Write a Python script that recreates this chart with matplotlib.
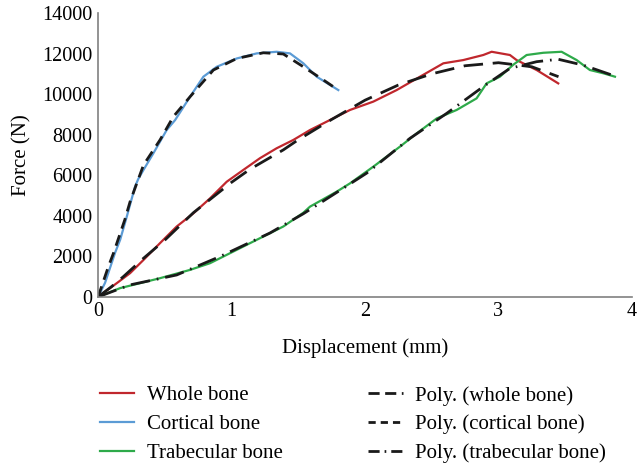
import numpy as np
import matplotlib
matplotlib.use("Agg")
import matplotlib.pyplot as plt
from matplotlib.lines import Line2D

plt.rcParams['font.family'] = ['Liberation Serif', 'DejaVu Serif']

# displacement (mm) / force (N)
whole_x = [0, 0.14, 0.24, 0.34, 0.464, 0.589, 0.714, 0.839, 0.964, 1.088, 1.213,
           1.338, 1.463, 1.588, 1.788, 1.888, 2.062, 2.237, 2.412, 2.587, 2.736,
           2.886, 2.949, 3.086, 3.136, 3.286, 3.448]
whole_y = [0, 675, 1170, 1820, 2650, 3470, 4120, 4860, 5680, 6260, 6840,
           7330, 7740, 8230, 8890, 9220, 9630, 10200, 10860, 11520, 11680,
           11930, 12090, 11930, 11680, 11190, 10530]

cort_x = [0, 0.052, 0.127, 0.165, 0.215, 0.277, 0.30, 0.34, 0.414, 0.514, 0.577,
          0.689, 0.789, 0.889, 1.039, 1.189, 1.338, 1.438, 1.538, 1.638, 1.80]
cort_y = [0, 690, 2170, 2810, 3960, 5440, 5800, 6260, 7080, 8230, 8720,
          9870, 10860, 11350, 11760, 12010, 12090, 12010, 11520, 10860, 10200]

trab_x = [0, 0.165, 0.464, 0.689, 0.839, 1.139, 1.388, 1.538, 1.588, 1.788, 1.888,
          2.062, 2.262, 2.387, 2.537, 2.687, 2.836, 2.911, 3.011, 3.111, 3.211,
          3.336, 3.473, 3.586, 3.685, 3.785, 3.873]
trab_y = [0, 430, 920, 1330, 1660, 2650, 3470, 4150, 4450, 5190, 5600,
          6420, 7410, 8060, 8800, 9220, 9790, 10530, 10860, 11450, 11930,
          12040, 12090, 11680, 11190, 11030, 10860]

# polynomial trendlines
whole_fit_x = [0, 0.1, 0.19, 0.34, 0.5, 0.714, 1.0, 1.139, 1.388, 1.5, 1.75,
               2.0, 2.25, 2.5, 2.75, 3.0, 3.25, 3.45]
whole_fit_y = [0, 500, 1000, 1900, 2800, 4150, 5650, 6300, 7250, 7750, 8750,
               9700, 10450, 11000, 11400, 11550, 11350, 10860]

cort_fit_x = [0, 0.077, 0.115, 0.2, 0.24, 0.34, 0.464, 0.564, 0.689, 0.864,
              1.04, 1.238, 1.388, 1.538, 1.688, 1.80]
cort_fit_y = [0, 1490, 2150, 3800, 4700, 6500, 7740, 8890, 9870, 11190,
              11760, 12040, 11980, 11350, 10700, 10200]

trab_fit_x = [0, 0.24, 0.589, 0.914, 1.288, 1.538, 1.788, 2.012, 2.337,
              2.612, 2.886, 3.086, 3.286, 3.448, 3.635, 3.873]
trab_fit_y = [0, 590, 1080, 1990, 3150, 4100, 5150, 6100, 7820,
              9050, 10370, 11270, 11600, 11720, 11430, 10890]

red = '#c0272d'
blue = '#5b9bd5'
green = '#2eaa4a'
black = '#1a1a1a'

fig = plt.figure(figsize=(6.37, 4.66), dpi=100)
ax = fig.add_axes([0.154, 0.363, 0.838, 0.609])

ax.plot(whole_x, whole_y, color=red, lw=1.6)
ax.plot(cort_x, cort_y, color=blue, lw=1.6)
ax.plot(trab_x, trab_y, color=green, lw=1.6)

ax.plot(whole_fit_x, whole_fit_y, color=black, lw=2, dashes=(7, 3.5))
ax.plot(cort_fit_x, cort_fit_y, color=black, lw=2, dashes=(4, 2.5))
ax.plot(trab_fit_x, trab_fit_y, color=black, lw=2, dashes=(7, 2.5, 0.6, 2.5))

ax.set_xlim(0, 4)
ax.set_ylim(0, 14000)
ax.set_xticks([0, 1, 2, 3, 4])
ax.set_yticks(range(0, 14001, 2000))
ax.tick_params(length=0, labelsize=14.5, pad=4)
for s in ['top', 'right']:
    ax.spines[s].set_visible(False)
for s in ['left', 'bottom']:
    ax.spines[s].set_color('#808080')
    ax.spines[s].set_linewidth(1.2)
ax.set_xlabel('Displacement (mm)', fontsize=15, labelpad=12)
ax.set_ylabel('Force (N)', fontsize=15, labelpad=8)

solid = [Line2D([], [], color=c, lw=1.6) for c in (red, blue, green)]
dashed = [
    Line2D([], [], color=black, lw=2, dashes=(4, 2)),
    Line2D([], [], color=black, lw=2, dashes=(2.6, 1.8)),
    Line2D([], [], color=black, lw=2, dashes=(4, 1.8, 0.6, 1.8)),
]
kw = dict(loc='upper left', frameon=False, fontsize=15, handlelength=1.65,
          handletextpad=0.6, labelspacing=0.44, borderpad=0, borderaxespad=0)
fig.legend(solid, ['Whole bone', 'Cortical bone', 'Trabecular bone'],
           bbox_to_anchor=(0.157, 0.172), **kw)
fig.legend(dashed, ['Poly. (whole bone)', 'Poly. (cortical bone)',
                    'Poly. (trabecular bone)'],
           bbox_to_anchor=(0.578, 0.172), **kw)

fig.savefig('out.png', dpi=100)
